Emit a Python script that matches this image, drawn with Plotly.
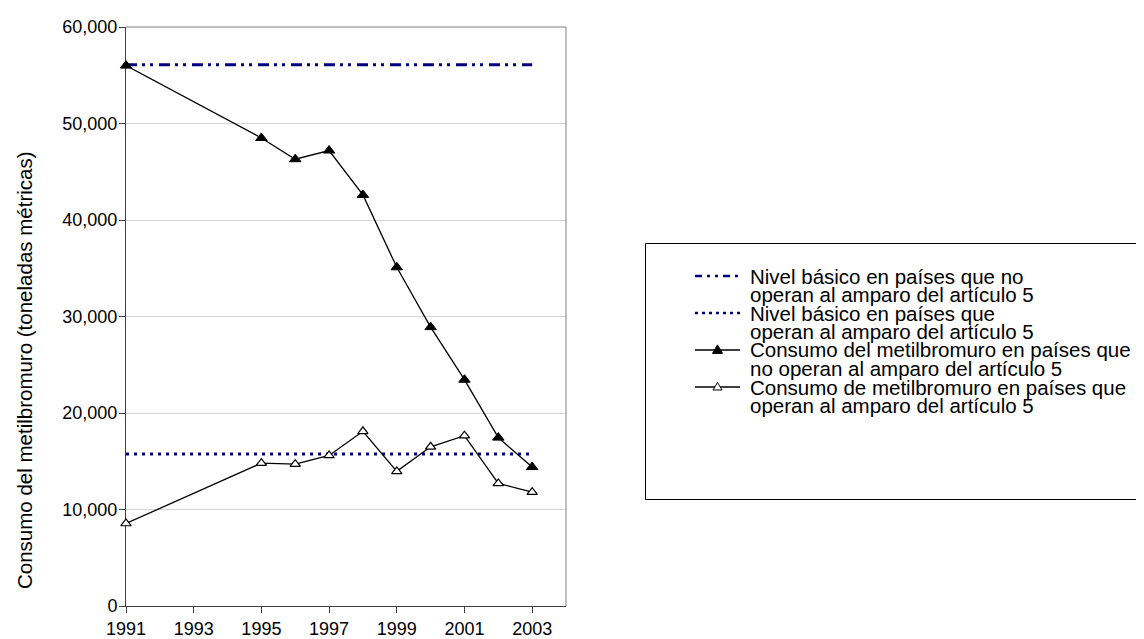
import plotly.graph_objects as go

# ---------------- data ----------------
years = [1991, 1995, 1996, 1997, 1998, 1999, 2000, 2001, 2002, 2003]
consumo_no_art5 = [56000, 48500, 46300, 47200, 42600, 35100, 28900, 23450, 17450, 14400]
consumo_art5 = [8550, 14800, 14700, 15600, 18100, 13950, 16500, 17650, 12700, 11800]
base_no_art5 = 56100
base_art5 = 15750
x_ticks = [1991, 1993, 1995, 1997, 1999, 2001, 2003]
y_ticks = [0, 10000, 20000, 30000, 40000, 50000, 60000]

names = [
    "Nivel básico en países que no<br>operan al amparo del artículo 5",
    "Nivel básico en países que<br>operan al amparo del artículo 5",
    "Consumo del metilbromuro en países que<br>no operan al amparo del artículo 5",
    "Consumo de metilbromuro en países que<br>operan al amparo del artículo 5",
]
legend_lines = [
    "Nivel básico en países que no",
    "operan al amparo del artículo 5",
    "Nivel básico en países que",
    "operan al amparo del artículo 5",
    "Consumo del metilbromuro en países que",
    "no operan al amparo del artículo 5",
    "Consumo de metilbromuro en países que",
    "operan al amparo del artículo 5",
]
y_title = "Consumo del metilbromuro (toneladas métricas)"

# ---------------- geometry ----------------
W, H = 1144, 639
PL, PR, PT, PB = 118, 558, 19, 598
FONT = "Liberation Sans, Arial, sans-serif"
FS_TICK = 18
FS_TEXT = 20.5
NAVY = "#000080"
DASHDOT = "11px,5px,3px,5px,3px,6px"
DOTTED = "3px,5px"


def fx(px):
    return px / W


def fy(py):
    return 1 - py / H


fig = go.Figure()

fig.add_trace(go.Scatter(
    x=[years[0], years[-1]], y=[base_no_art5, base_no_art5], mode="lines",
    name=names[0], line=dict(color=NAVY, width=3, dash=DASHDOT),
    cliponaxis=False, showlegend=False))
fig.add_trace(go.Scatter(
    x=[years[0], years[-1]], y=[base_art5, base_art5], mode="lines",
    name=names[1], line=dict(color=NAVY, width=3, dash=DOTTED),
    cliponaxis=False, showlegend=False))
fig.add_trace(go.Scatter(
    x=years, y=consumo_no_art5, mode="lines+markers", name=names[2],
    line=dict(color="black", width=1.3),
    marker=dict(symbol="triangle-up", size=10, color="black",
                line=dict(color="black", width=1)),
    cliponaxis=False, showlegend=False))
fig.add_trace(go.Scatter(
    x=years, y=consumo_art5, mode="lines+markers", name=names[3],
    line=dict(color="black", width=1.3),
    marker=dict(symbol="triangle-up", size=9, color="white",
                line=dict(color="black", width=1.2)),
    cliponaxis=False, showlegend=False))

shapes = []
# plot border top/right (gray)
shapes.append(dict(type="line", xref="paper", yref="paper",
                   x0=fx(PL), x1=fx(PR), y0=fy(PT), y1=fy(PT),
                   line=dict(color="#808080", width=1)))
shapes.append(dict(type="line", xref="paper", yref="paper",
                   x0=fx(PR), x1=fx(PR), y0=fy(PT), y1=fy(PB),
                   line=dict(color="#808080", width=1)))
# legend box
LX0, LX1, LY0, LY1 = 637.5, 1143.5, 235.5, 491.5
shapes.append(dict(type="rect", xref="paper", yref="paper",
                   x0=fx(LX0), x1=fx(LX1), y0=fy(LY1), y1=fy(LY0),
                   line=dict(color="black", width=1), fillcolor="rgba(0,0,0,0)"))

row0, rstep = 268, 18.5
rows = [row0 + rstep * i for i in range(8)]
SX0, SX1 = 687, 732
SCX = (SX0 + SX1) / 2
TX = 740

sym_styles = [
    dict(color=NAVY, width=2.5, dash="7px,5px,3px,5px,3px,5px"),
    dict(color=NAVY, width=2.5, dash="3px,4px"),
    dict(color="black", width=1.3),
    dict(color="black", width=1.3),
]
for k in range(4):
    ry = rows[2 * k]
    shapes.append(dict(type="line", xref="paper", yref="paper",
                       x0=fx(SX0), x1=fx(SX1), y0=fy(ry), y1=fy(ry),
                       line=sym_styles[k]))


def tri(cx, cy, half_w, h):
    pts = [(cx - half_w, cy + h * 0.4), (cx + half_w, cy + h * 0.4), (cx, cy - h * 0.6)]
    return "M " + " L ".join(f"{fx(a):.6f},{fy(b):.6f}" for a, b in pts) + " Z"


shapes.append(dict(type="path", xref="paper", yref="paper",
                   path=tri(SCX, rows[4], 5, 8.5), fillcolor="black",
                   line=dict(color="black", width=1)))
shapes.append(dict(type="path", xref="paper", yref="paper",
                   path=tri(SCX, rows[6], 4.5, 7.5), fillcolor="white",
                   line=dict(color="black", width=1)))

annotations = []
for i, t in enumerate(legend_lines):
    annotations.append(dict(xref="paper", yref="paper", x=fx(TX), y=fy(rows[i]),
                            text=t, showarrow=False, xanchor="left", yanchor="middle",
                            font=dict(family=FONT, size=FS_TEXT, color="black")))
annotations.append(dict(xref="paper", yref="paper", x=fx(16), y=fy(362),
                        text=y_title, textangle=-90, showarrow=False,
                        xanchor="center", yanchor="middle",
                        font=dict(family=FONT, size=FS_TEXT, color="black")))

fig.update_layout(
    width=W, height=H, autosize=False,
    margin=dict(l=0, r=0, t=0, b=0),
    paper_bgcolor="white", plot_bgcolor="white",
    font=dict(family=FONT, size=FS_TICK, color="black"),
    showlegend=False,
    shapes=shapes, annotations=annotations,
    xaxis=dict(domain=[fx(PL), fx(PR)], range=[1991, 2004],
               tickvals=x_ticks, ticktext=[str(v) for v in x_ticks],
               ticks="outside", ticklen=6, tickcolor="#404040",
               tickfont=dict(family=FONT, size=FS_TICK, color="black"),
               showline=True, linecolor="#404040", linewidth=1,
               showgrid=False, zeroline=False, automargin=False,
               layer="below traces"),
    yaxis=dict(domain=[fy(PB), fy(PT)], range=[0, 60000],
               tickvals=y_ticks, tickformat=",",
               ticks="outside", ticklen=6, tickcolor="#404040",
               tickfont=dict(family=FONT, size=FS_TICK, color="black"),
               ticklabelstandoff=-2,
               showline=True, linecolor="#404040", linewidth=1,
               showgrid=True, gridcolor="#d4d4d4", gridwidth=1,
               zeroline=False, automargin=False, layer="below traces"),
)

fig.write_html("out.html")
